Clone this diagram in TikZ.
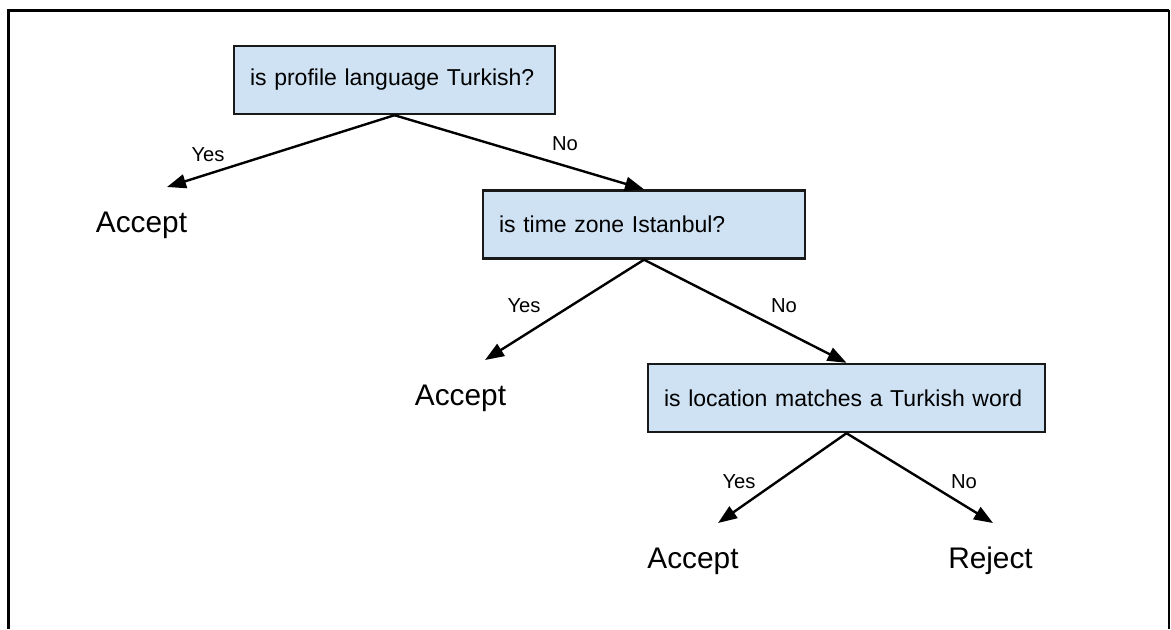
\documentclass[tikz,border=0pt]{standalone}
\usepackage{fontspec}
\setmainfont{Liberation Sans}
\usetikzlibrary{arrows.meta}
\definecolor{boxblue}{HTML}{CFE2F3}
\tikzset{
  question/.style={draw=black!90, fill=boxblue, line width=1.2pt, inner xsep=8pt,
    minimum height=34pt, align=left, font=\fontsize{11.5}{13}\selectfont},
  leaf/.style={anchor=base, font=\fontsize{14.9}{17}\selectfont},
  answer/.style={font=\fontsize{10.1}{12}\selectfont},
  branch/.style={line width=1.2pt, -{Triangle[length=9.5pt,width=7pt]}},
}

\begin{document}
\begin{tikzpicture}[x=0.5pt, y=-0.5pt]
  \useasboundingbox (0,0) rectangle (1171,629);

  % frame
  \draw[line width=1.5pt] (8,629) -- (8,10) -- (1169,10);
  \draw[line width=1pt] (1169,10) -- (1169,629);

  % questions
  \node[question, text width=144.5pt] (Q1) at (394.5,80) {is profile language Turkish?};
  \node[question, text width=145pt] (Q2) at (644,224.5) {is time zone Istanbul?};
  \node[question, text width=182.5pt] (Q3) at (846.5,398) {is location matches a Turkish word};

  % outcomes
  \node[leaf] (A1) at (141.5,232) {Accept};
  \node[leaf] (A2) at (460.5,405) {Accept};
  \node[leaf] (A3) at (693,568) {Accept};
  \node[leaf] (R3) at (990.5,568) {Reject};

  \coordinate (T1) at (167,187);
  \coordinate (T2) at (485,360);
  \coordinate (T3) at (718,523);
  \coordinate (T4) at (993,523);

  \draw[branch] (Q1.south) -- (T1);
  \draw[branch] (Q1.south) -- (Q2.north);
  \draw[branch] (Q2.south) -- (T2);
  \draw[branch] (Q2.south) -- (Q3.north);
  \draw[branch] (Q3.south) -- (T3);
  \draw[branch] (Q3.south) -- (T4);

  % branch labels
  \node[answer] (Y1) at (208,155) {Yes};
  \node[answer] (N1) at (565,144) {No};
  \node[answer] (Y2) at (524,306) {Yes};
  \node[answer] (N2) at (784,306) {No};
  \node[answer] (Y3) at (739,482) {Yes};
  \node[answer] (N3) at (964,482) {No};
\end{tikzpicture}
\end{document}
